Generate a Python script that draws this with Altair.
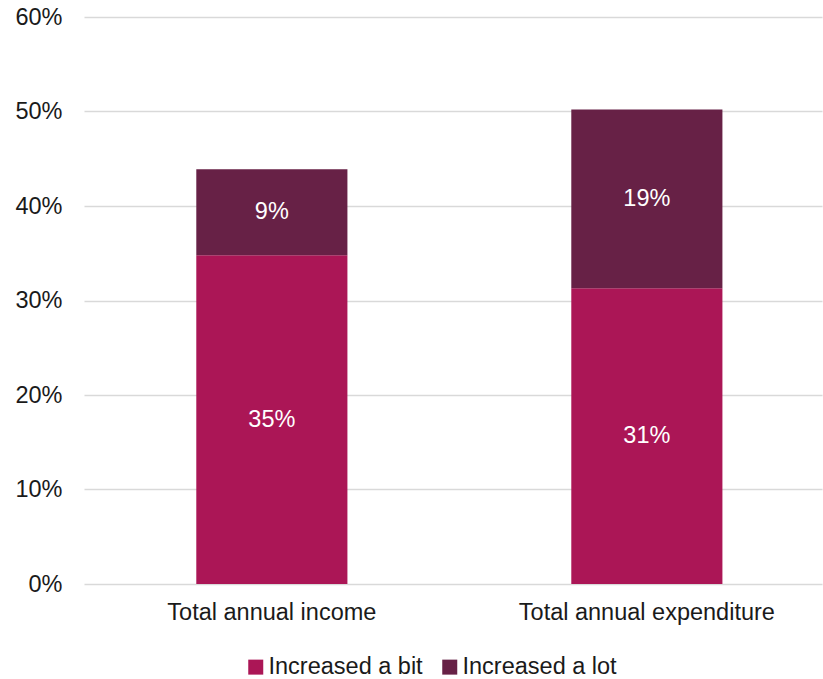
import altair as alt
import pandas as pd

categories = ["Total annual income", "Total annual income",
              "Total annual expenditure", "Total annual expenditure"]
series = ["Increased a bit", "Increased a lot", "Increased a bit", "Increased a lot"]
order = [0, 1, 0, 1]
values = [0.348, 0.091, 0.313, 0.189]
labels = ["35%", "9%", "31%", "19%"]

cat_order = ["Total annual income", "Total annual expenditure"]
series_order = ["Increased a bit", "Increased a lot"]
colors = ["#AB1656", "#672146"]

df = pd.DataFrame({"category": categories, "series": series, "order": order,
                   "value": values, "label": labels})

FONT = "Liberation Sans"
FS = 23.5
TXT = "#1a1a1a"

base = alt.Chart(df).transform_stack(
    stack="value", groupby=["category"], as_=["y0", "y1"],
    sort=[alt.SortField("order", order="ascending")]
).transform_calculate(mid="(datum.y0 + datum.y1) / 2")

xenc = alt.X("category:N", sort=cat_order, title=None,
             scale=alt.Scale(paddingInner=0.597, paddingOuter=0.2825, align=0.53),
             axis=alt.Axis(labelAngle=0, domain=False, ticks=False, labelFontSize=FS,
                           labelFont=FONT, labelColor=TXT, labelPadding=16, labelLimit=0))

bars = base.mark_bar().encode(
    x=xenc,
    y=alt.Y("y0:Q", title=None,
            scale=alt.Scale(domain=[0, 0.6], nice=False),
            axis=alt.Axis(format=".0%", values=[0, 0.1, 0.2, 0.3, 0.4, 0.5, 0.6],
                          domain=False, ticks=False, labelFontSize=FS, labelFont=FONT,
                          labelColor=TXT, labelPadding=22, grid=True,
                          gridColor="#D9D9D9", gridWidth=1.5)),
    y2="y1:Q",
    color=alt.Color("series:N", scale=alt.Scale(domain=series_order, range=colors),
                    title=None,
                    legend=alt.Legend(orient="none", legendX=160, legendY=638,
                                      direction="horizontal", symbolType="square",
                                      symbolSize=225, symbolStrokeWidth=0,
                                      labelFontSize=FS, labelFont=FONT, labelLimit=0,
                                      labelColor=TXT, labelOffset=1,
                                      columnPadding=15, padding=0)),
)

text = base.mark_text(color="white", fontSize=FS, font=FONT).encode(
    x=alt.X("category:N", sort=cat_order),
    y=alt.Y("mid:Q"),
    text="label:N",
)

chart = (bars + text).properties(
    width=738, height=567,
    autosize=alt.AutoSizeParams(type="none"),
    padding={"left": 84, "top": 17, "right": 1, "bottom": 95},
).configure(background="white").configure_view(strokeWidth=0, stroke="transparent")

chart.save("out.html", embed_options={"renderer": "svg", "actions": False})
